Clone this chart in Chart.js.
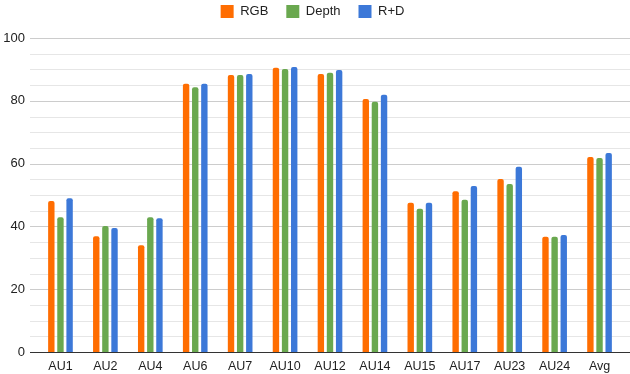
<!DOCTYPE html>
<html>
<head>
<meta charset="utf-8">
<script src="https://cdn.jsdelivr.net/npm/chart.js@4/dist/chart.umd.min.js"></script>
<style>
  html, body { margin: 0; padding: 0; background: #fff; }
  #wrap { width: 630px; height: 374px; }
</style>
</head>
<body>
<div id="wrap"><canvas id="grafico" width="630" height="374"></canvas></div>
<script>
// dados
const categorias = ['AU1', 'AU2', 'AU4', 'AU6', 'AU7', 'AU10', 'AU12', 'AU14', 'AU15', 'AU17', 'AU23', 'AU24', 'Avg'];
const valoresRGB = [48.1, 36.9, 34.0, 85.4, 88.2, 90.5, 88.5, 80.6, 47.5, 51.2, 55.1, 36.7, 62.1];
const valoresDepth = [42.9, 40.1, 42.9, 84.3, 88.2, 90.1, 88.9, 79.7, 45.6, 48.5, 53.5, 36.7, 61.8];
const valoresRD = [49.0, 39.5, 42.6, 85.4, 88.5, 90.8, 89.8, 81.9, 47.5, 52.9, 59.0, 37.3, 63.4];
const ticksY = [0, 20, 40, 60, 80, 100];

const cores = { rgb: '#ff6d01', depth: '#6aa84f', rd: '#3c78d8' };
const fonte = 'Liberation Sans, Arial, sans-serif';

// linhas de grade desenhadas a mão para passar um pouco das bordas da área
const gradePlugin = {
    id: 'grade',
    beforeInit(chart) {
        const fitOriginal = chart.legend.fit;
        chart.legend.fit = function () {
            fitOriginal.bind(chart.legend)();
            this.height = 38;
        };
    },
    beforeDraw(chart) {
        // sobe a legenda para ficar colada no topo
        const lg = chart.legend;
        lg.top = -13;
    },
    beforeDatasetsDraw(chart) {
        const ctx = chart.ctx;
        const y = chart.scales.y;
        ctx.save();
        for (let v = 5; v <= 100; v += 5) {
            const py = Math.round(y.getPixelForValue(v)) + 0.5;
            ctx.strokeStyle = v % 20 === 0 ? '#cccccc' : '#e6e6e6';
            ctx.lineWidth = 1;
            ctx.beginPath();
            ctx.moveTo(30, py);
            ctx.lineTo(630, py);
            ctx.stroke();
        }
        ctx.restore();
    },
    afterDatasetsDraw(chart) {
        const ctx = chart.ctx;
        const py = Math.round(chart.scales.y.getPixelForValue(0)) + 0.5;
        ctx.save();
        ctx.strokeStyle = '#333333';
        ctx.lineWidth = 1;
        ctx.beginPath();
        ctx.moveTo(30, py);
        ctx.lineTo(630, py);
        ctx.stroke();
        ctx.restore();
    }
};

const ctx = document.getElementById('grafico').getContext('2d');
const grafico = new Chart(ctx, {
    type: 'bar',
    data: {
        labels: categorias,
        datasets: [
            { label: 'RGB', data: valoresRGB, backgroundColor: cores.rgb },
            { label: 'Depth', data: valoresDepth, backgroundColor: cores.depth },
            { label: 'R+D', data: valoresRD, backgroundColor: cores.rd }
        ]
    },
    options: {
        responsive: false,
        animation: false,
        devicePixelRatio: 1,
        layout: { padding: { left: 3, right: 8, top: 0, bottom: 0 } },
        datasets: {
            bar: {
                categoryPercentage: 0.61,
                barPercentage: 0.7,
                borderRadius: { topLeft: 2, topRight: 2 },
                borderSkipped: 'bottom'
            }
        },
        scales: {
            x: {
                afterFit(scale) { scale.height = 22; },
                grid: { display: false, drawTicks: false },
                border: { display: false },
                ticks: {
                    color: '#222',
                    font: { family: fonte, size: 12.5 },
                    padding: 7,
                    maxRotation: 0,
                    autoSkip: false
                }
            },
            y: {
                min: 0,
                max: 100,
                afterFit(scale) { scale.width = 35; },
                afterBuildTicks(scale) { scale.ticks = ticksY.map(v => ({ value: v })); },
                grid: { display: false, drawTicks: false },
                border: { display: false },
                ticks: {
                    color: '#222',
                    font: { family: fonte, size: 13 },
                    padding: 13
                }
            }
        },
        plugins: {
            legend: {
                display: true,
                position: 'top',
                labels: {
                    boxWidth: 13,
                    boxHeight: 13,
                    padding: 18,
                    color: '#222',
                    font: { family: fonte, size: 13 }
                }
            },
            tooltip: { enabled: false }
        }
    },
    plugins: [gradePlugin]
});
</script>
</body>
</html>
